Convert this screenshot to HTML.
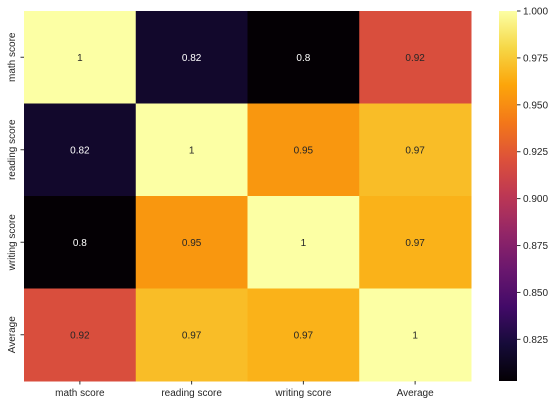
<!DOCTYPE html>
<html><head><meta charset="utf-8"><style>
html,body{margin:0;padding:0;background:#fff;}
svg{display:block;font-family:"Liberation Sans","DejaVu Sans",sans-serif;}
</style></head><body>
<svg id="chart" width="559" height="405" viewBox="0 0 559 405" xmlns="http://www.w3.org/2000/svg">
<defs><linearGradient id="cbg" x1="0" y1="1" x2="0" y2="0"></linearGradient></defs>
<g id="cells"></g>
<g id="xlabels"></g>
<g id="ylabels"></g>
<g id="cbar"></g>
</svg>
<script>
const labels = ["math score","reading score","writing score","Average"];
const row0 = [1, 0.8176, 0.8028, 0.9190];
const row1 = [0.8176, 1, 0.9546, 0.9700];
const row2 = [0.8028, 0.9546, 1, 0.9656];
const row3 = [0.9190, 0.9700, 0.9656, 1];
const annot0 = ["1","0.82","0.8","0.92"];
const annot1 = ["0.82","1","0.95","0.97"];
const annot2 = ["0.8","0.95","1","0.97"];
const annot3 = ["0.92","0.97","0.97","1"];
const cbTicks = [0.825,0.85,0.875,0.9,0.925,0.95,0.975,1.0];
const vmin = 0.8028, vmax = 1.0;

const rows=[row0,row1,row2,row3], annots=[annot0,annot1,annot2,annot3];
const NS="http://www.w3.org/2000/svg";
const X0=24,X1=471,Y0=11,Y1=381;
const cw=(X1-X0)/labels.length, ch=(Y1-Y0)/labels.length;
const stops=[[0,4,0,4],[.1,22,11,57],[.2,66,10,104],[.3,106,23,110],[.4,147,38,103],[.5,188,55,84],[.6,221,81,58],[.7,243,120,25],[.8,252,165,10],[.9,246,215,70],[1,252,255,164]];
function cmap(t){t=Math.max(0,Math.min(1,t));for(let i=1;i<stops.length;i++){if(t<=stops[i][0]){const a=stops[i-1],b=stops[i],f=(t-a[0])/(b[0]-a[0]);return `rgb(${[1,2,3].map(k=>Math.round(a[k]+(b[k]-a[k])*f)).join(",")})`;}}return "rgb(252,255,164)";}
const norm=v=>(v-vmin)/(vmax-vmin);
function mk(tag,attrs,parent){const e=document.createElementNS(NS,tag);for(const k in attrs)e.setAttribute(k,attrs[k]);parent.appendChild(e);return e;}
const gc=document.getElementById("cells");
rows.forEach((r,i)=>r.forEach((v,j)=>{
  const rc=mk("rect",{x:X0+j*cw,y:Y0+i*ch,width:cw+0.5,height:ch+0.5,fill:cmap(norm(v))},gc);
  
  
  const t=mk("text",{x:X0+(j+.5)*cw,y:Y0+(i+.5)*ch+3.5,"text-anchor":"middle","font-size":"10",fill:norm(v)<0.5?"#fff":"#262626"},gc);
  t.textContent=annots[i][j];
  
  
}));
const gx=document.getElementById("xlabels"), gy=document.getElementById("ylabels");
labels.forEach((l,i)=>{
  const cx=X0+(i+.5)*cw;
  mk("line",{x1:cx,y1:Y1,x2:cx,y2:Y1+3.5,stroke:"#333"},gx);
  const t=mk("text",{x:cx,y:Y1+15,"text-anchor":"middle","font-size":"10",fill:"#262626"},gx);
  t.textContent=l;
  
  
  const cy=Y0+(i+.5)*ch;
  mk("line",{x1:X0,y1:cy,x2:X0-3.5,y2:cy,stroke:"#333"},gy);
  const u=mk("text",{x:0,y:0,"text-anchor":"middle","font-size":"10",fill:"#262626",transform:`translate(15,${cy}) rotate(-90)`},gy);
  u.textContent=l;
  
  
});
const grad=document.getElementById("cbg");
for(let k=0;k<=20;k++){mk("stop",{offset:(k/20),"stop-color":cmap(k/20)},grad);}
const gb=document.getElementById("cbar");
const CX0=499,CX1=517;
const cb=mk("rect",{x:CX0,y:Y0,width:CX1-CX0,height:Y1-Y0,fill:"url(#cbg)"},gb);


const cy=v=>Y1-norm(v)*(Y1-Y0);
cbTicks.forEach(v=>{
  const y=cy(v);
  mk("line",{x1:CX1,y1:y,x2:CX1+3.5,y2:y,stroke:"#333"},gb);
  const t=mk("text",{x:CX1+6,y:y+3.5,"font-size":"10",fill:"#262626"},gb);
  t.textContent=v.toFixed(3);
  
  
});
</script>
</body></html>
